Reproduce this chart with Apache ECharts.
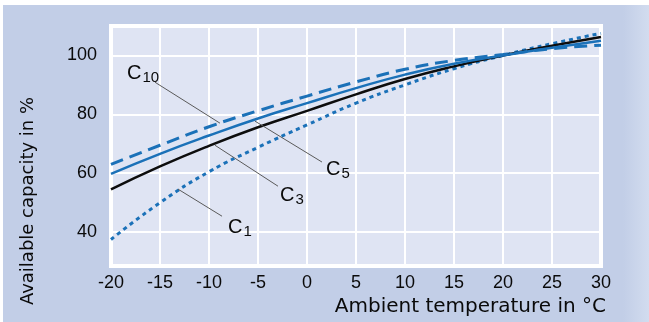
<!DOCTYPE html>
<html>
<head>
<meta charset="utf-8">
<script src="https://cdn.jsdelivr.net/npm/echarts@6/dist/echarts.min.js"></script>
<style>
  body { margin: 0; background: #fff; }
  #wrap { position: relative; width: 649px; height: 322px; background: #fff; }
  #bg { position: absolute; left: 3px; top: 5px; right: 0; bottom: 0;
        background: linear-gradient(to right, #c2cee7 0%, #c2cee7 96%, #d2dcef 100%); }
  #main { position: absolute; left: 0; top: 0; width: 649px; height: 322px; }
</style>
</head>
<body>
<div id="wrap"><div id="bg"></div><div id="main"></div></div>
<script>
// temperature in °C
const temps = [-20, -15, -10, -5, 0, 5, 10, 15, 20, 25, 30];
// available capacity in % for each discharge rate
const c1 = [37.5, 50, 60.5, 68.8, 76.4, 83.8, 90, 95.5, 100, 104, 107.5];
const c3 = [54.5, 62.3, 69.3, 75.6, 81.2, 86.8, 92, 96.3, 100, 103.3, 106.3];
const c5 = [59.8, 66.6, 72.8, 78.6, 83.8, 88.9, 93.5, 97.2, 100, 102.6, 105];
const c10 = [63, 69.5, 75.8, 81.2, 86.2, 91, 95.3, 98.3, 100.3, 102.3, 103.5];
const yTicks = [40, 60, 80, 100];

// labels with leader lines: [from on curve], [to], [label centre]
const notes = {
  c10: { sub: '10', from: [-8.88, 77.0], to: [-15.51, 90.9], at: [-16.73, 93.65] },
  c5: { sub: '5', from: [-5.31, 77.7], to: [1.53, 63.8], at: [3.16, 61.05] },
  c3: { sub: '3', from: [-9.39, 69.5], to: [-2.96, 55.6], at: [-1.53, 52.2] },
  c1: { sub: '1', from: [-13.16, 54.6], to: [-8.67, 45.4], at: [-6.84, 41.4] }
};

const BLUE = '#1b71b8';
const FONT = 'Liberation Sans, Arial, sans-serif';

function pairs(vals) {
  return temps.map((t, i) => [t, vals[i]]);
}

function marks(n) {
  return {
    markLine: {
      silent: true,
      symbol: ['none', 'none'],
      label: { show: false },
      lineStyle: { color: '#5a5a5a', width: 1, type: 'solid' },
      emphasis: { disabled: true },
      data: [[{ coord: n.from }, { coord: n.to }]]
    },
    markPoint: {
      silent: true,
      symbol: 'circle',
      symbolSize: 1,
      itemStyle: { color: 'rgba(0,0,0,0)' },
      label: {
        show: true,
        position: 'inside',
        formatter: '{c|C}{s|' + n.sub + '}',
        rich: {
          c: { fontSize: 20, fontFamily: FONT, color: '#0a0a0a', verticalAlign: 'top', lineHeight: 22 },
          s: { fontSize: 15, fontFamily: FONT, color: '#0a0a0a', verticalAlign: 'top', lineHeight: 22, padding: [7, 0, 0, 1] }
        }
      },
      data: [{ coord: n.at }]
    }
  };
}

const chart = echarts.init(document.getElementById('main'));
chart.setOption({
  backgroundColor: 'transparent',
  animation: false,
  grid: {
    left: 111, right: 48, top: 26, bottom: 56,
    show: true,
    backgroundColor: '#dfe4f3',
    borderColor: '#ffffff',
    borderWidth: 4
  },
  xAxis: {
    type: 'value',
    min: -20, max: 30, interval: 5,
    axisLine: { show: false },
    axisTick: { show: false },
    splitLine: { show: true, lineStyle: { color: '#ffffff', width: 2 } },
    axisLabel: { color: '#0a0a0a', fontSize: 18, fontFamily: FONT, margin: 8 }
  },
  yAxis: {
    type: 'value',
    min: 28.5, max: 110,
    axisLine: { show: false },
    axisTick: { show: false, customValues: yTicks },
    splitLine: { show: true, lineStyle: { color: '#ffffff', width: 2 } },
    axisLabel: { color: '#0a0a0a', fontSize: 18, fontFamily: FONT, margin: 14, customValues: yTicks }
  },
  graphic: [
    {
      type: 'text', x: 606, y: 307,
      style: { text: 'Ambient temperature in °C', align: 'right', verticalAlign: 'middle',
               fontSize: 20, fontFamily: 'DejaVu Sans', fill: '#0a0a0a' }
    },
    {
      type: 'text', x: 28.5, y: 201, rotation: Math.PI / 2,
      style: { text: 'Available capacity in %', align: 'center', verticalAlign: 'middle',
               fontSize: 18, fontFamily: 'DejaVu Sans', fill: '#0a0a0a' }
    }
  ],
  series: [
    Object.assign({
      name: 'C1', type: 'line', data: pairs(c1), smooth: true, showSymbol: false,
      lineStyle: { color: BLUE, width: 3, type: [4, 4] }
    }, marks(notes.c1)),
    Object.assign({
      name: 'C3', type: 'line', data: pairs(c3), smooth: true, showSymbol: false,
      lineStyle: { color: '#0d0d0d', width: 2.5 }
    }, marks(notes.c3)),
    Object.assign({
      name: 'C5', type: 'line', data: pairs(c5), smooth: true, showSymbol: false,
      lineStyle: { color: BLUE, width: 2.5 }
    }, marks(notes.c5)),
    Object.assign({
      name: 'C10', type: 'line', data: pairs(c10), smooth: true, showSymbol: false,
      lineStyle: { color: BLUE, width: 3, type: [13, 7] }
    }, marks(notes.c10))
  ]
});
</script>
</body>
</html>
